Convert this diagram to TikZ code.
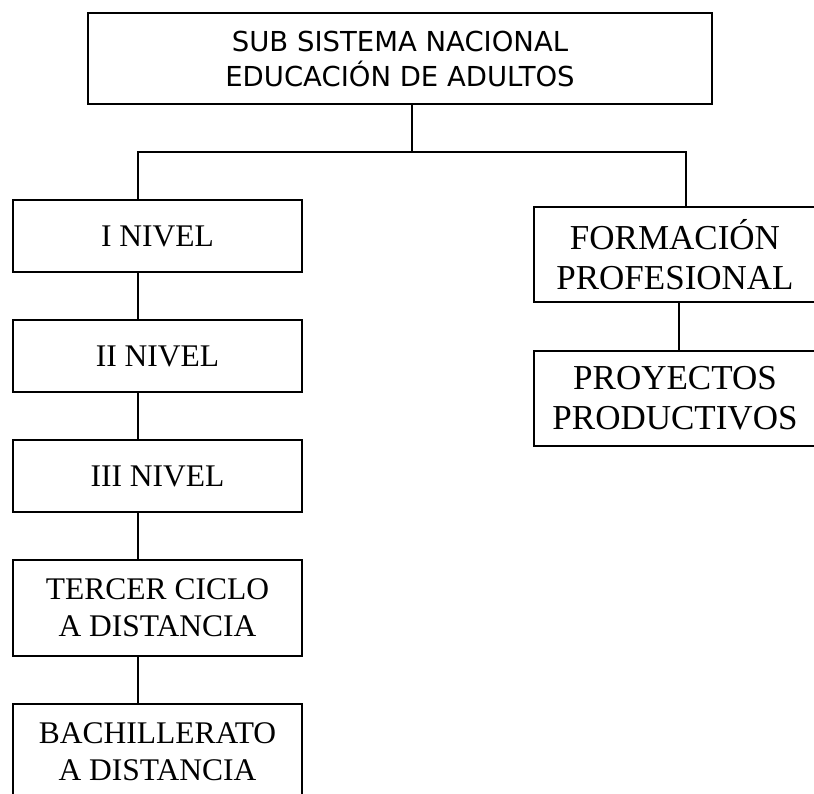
\documentclass[tikz,border=0pt]{standalone}
\usepackage{fontspec}
\setmainfont{Liberation Serif}
\newfontfamily\headfont{DejaVu Sans}

\begin{document}
\begin{tikzpicture}[x = 1pt, y = -1pt, line width = 1.5pt, every node/.style = {draw, align = center, inner sep = 0pt}, headbox/.style = {minimum width = 624pt, minimum height = 91pt, line width = 2pt, font = \headfont\fontsize{27.5}{35}\selectfont}, levelbox/.style = {minimum width = 289pt, font = \fontsize{31.5}{37}\selectfont}, rightbox/.style = {minimum width = 282pt, minimum height = 95pt, font = \fontsize{35}{40}\selectfont}]
    \useasboundingbox (0, 0) rectangle (814, 793);
    \node[headbox] (head) at (400, 58.5) {SUB SISTEMA NACIONAL\\EDUCACIÓN DE ADULTOS};
    \node[levelbox, minimum height = 72pt] (lvl1) at (157.5, 236) {I NIVEL};
    \node[levelbox, minimum height = 72pt] (lvl2) at (157.5, 356) {II NIVEL};
    \node[levelbox, minimum height = 72pt] (lvl3) at (157.5, 476) {III NIVEL};
    \node[levelbox, minimum height = 96pt] (lvl4) at (157.5, 608) {TERCER CICLO\\A DISTANCIA};
    \node[levelbox, minimum height = 96pt] (lvl5) at (157.5, 752) {BACHILLERATO\\A DISTANCIA};
    \node[rightbox] (form) at (675, 254.5) {FORMACIÓN\\PROFESIONAL};
    \node[rightbox] (proy) at (675, 398.5) {PROYECTOS\\PRODUCTIVOS};
    \coordinate (split) at (412, 152);
    \coordinate (lbus) at (138, 152);
    \coordinate (rbus) at (686, 152);
    \coordinate (rlink) at (679, 302);
    \draw (head.south -| split) -- (split);
    \draw (lbus |- lvl1.north) -- (lbus) -- (rbus) -- (rbus |- form.north);
    \foreach \a/\b in {lvl1/lvl2, lvl2/lvl3, lvl3/lvl4, lvl4/lvl5}
        \draw (\a.south -| lbus) -- (\b.north -| lbus);
    \draw (form.south -| rlink) -- (proy.north -| rlink);
\end{tikzpicture}
\end{document}
